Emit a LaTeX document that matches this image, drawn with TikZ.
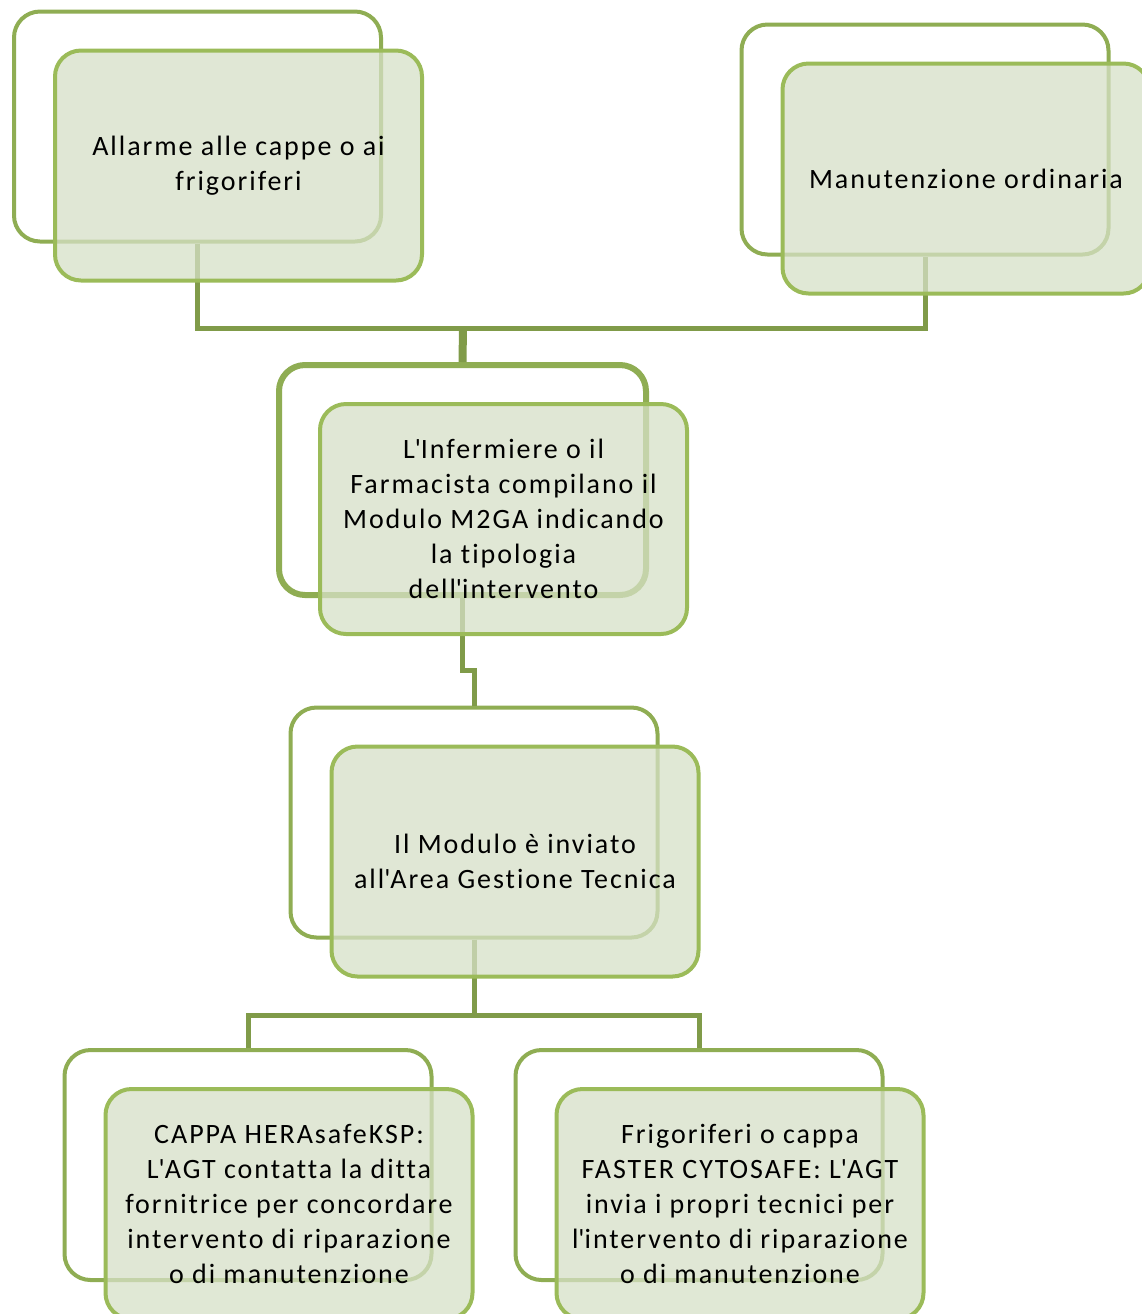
\documentclass[tikz,border=0pt]{standalone}
\usepackage{fontspec}
\setmainfont{Carlito}[LetterSpace=7, Ligatures={NoCommon}]
\usepackage{tikz}
\usetikzlibrary{positioning}

\definecolor{olivedark}{HTML}{809B49}
\definecolor{oliveline}{HTML}{8FAD53}
\definecolor{olivelight}{HTML}{9BBB59}
\definecolor{olivefill}{HTML}{D6E0C7}

\newcommand{\apos}{\textquotesingle}

\tikzset{
  backbox/.style={draw=oliveline, line width=2pt, rounded corners=13pt, fill=white,
    minimum width=183.5pt, minimum height=115pt},
  frontbox/.style={draw=olivelight, line width=2pt, rounded corners=13pt,
    fill=olivefill, fill opacity=0.75, text opacity=1,
    minimum width=183.5pt, minimum height=115pt, align=center,
    font=\fontsize{14}{17.5}\selectfont, xshift=20.5pt, yshift=-19.5pt},
  link/.style={draw=olivedark, line width=2.5pt}
}

\begin{document}
\begin{tikzpicture}[x=0.5pt, y=-0.5pt]
  \useasboundingbox (0,0) rectangle (1142,1314);

  \node[backbox] (b1) at (197.5,126.5) {};
  \node[backbox] (b2) at (925,139.5)   {};
  \node[backbox, line width=3pt] (b3) at (462.5,480) {};
  \node[backbox] (b4) at (474,822.5)   {};
  \node[backbox] (b5) at (248,1165)    {};
  \node[backbox] (b6) at (699,1165)    {};

  % Connect the boxes
  \coordinate (topjoin) at (463,328);
  \coordinate (jog)     at (468,670);
  \coordinate (botjoin) at (474,1015);
  \draw[link] (b1.south) |- (topjoin) -| (b2.south);
  \draw[link, line width=4pt] (topjoin) -- (b3.north);
  \draw[link] (b3.south) |- (jog) -| (b4.north);
  \draw[link] (b4.south) -- (botjoin);
  \draw[link] (b5.north) |- (botjoin) -| (b6.north);

  \node[frontbox] (f1) at (b1) {Allarme alle cappe o ai\\frigoriferi};
  \node[frontbox] (f2) at (b2) {Manutenzione ordinaria};
  \node[frontbox] (f3) at (b3) {L\apos Infermiere o il\\Farmacista compilano il\\Modulo M2GA indicando\\la tipologia\\dell\apos intervento};
  \node[frontbox] (f4) at (b4) {Il Modulo è inviato\\all\apos Area Gestione Tecnica};
  \node[frontbox] (f5) at (b5) {CAPPA HERAsafeKSP:\\L\apos AGT contatta la ditta\\fornitrice per concordare\\intervento di riparazione\\o di manutenzione};
  \node[frontbox] (f6) at (b6) {Frigoriferi o cappa\\FASTER CYTOSAFE: L\apos AGT\\invia i propri tecnici per\\l\apos intervento di riparazione\\o di manutenzione};
\end{tikzpicture}
\end{document}
